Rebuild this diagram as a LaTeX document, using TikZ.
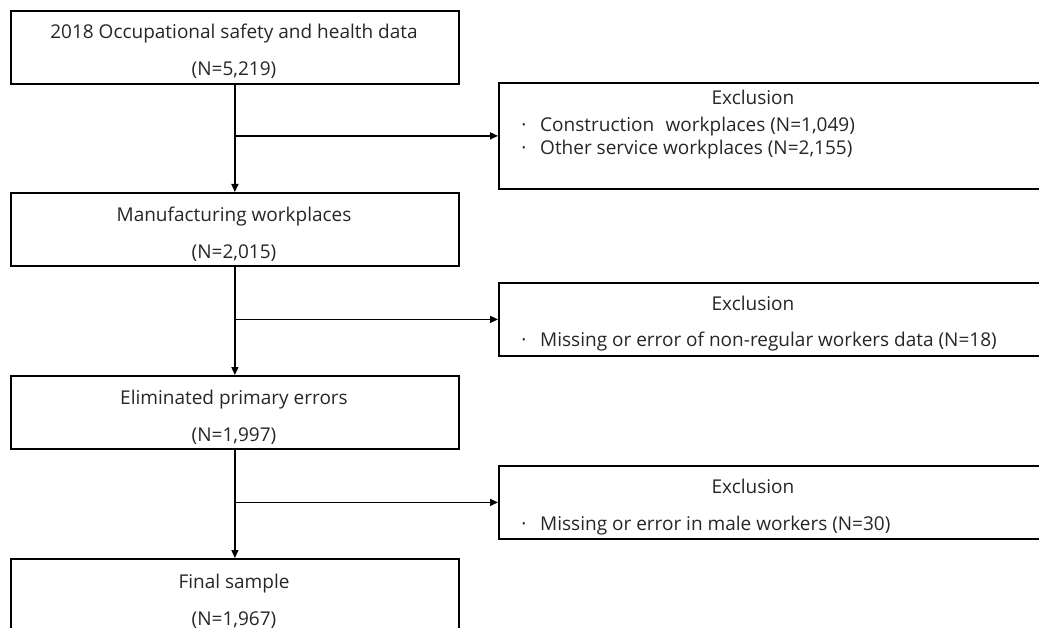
\documentclass[tikz,border=0pt]{standalone}
\usepackage{fontspec}
\setmainfont{Open Sans}
\usetikzlibrary{arrows.meta}
\begin{document}
\begin{tikzpicture}[x=1pt,y=-1pt,
  mainbox/.style={draw,line width=1.8pt,minimum width=448pt,minimum height=73pt,inner sep=0pt,anchor=north west},
  exbox/.style={draw,line width=1.8pt,minimum width=600pt,inner sep=0pt,anchor=north west},
  txt/.style={font=\fontsize{19}{22}\selectfont,text=black!85,inner sep=0pt,anchor=base},
  ltxt/.style={txt,anchor=base west},
  conn/.style={line width=1.4pt,-{Triangle[length=8pt,width=7pt]}}]
\useasboundingbox (0,0) rectangle (1039,628);
\clip (0,0) rectangle (1039,628);
% main boxes
\node[mainbox] (b1) at (10,10) {};
\node[mainbox] (b2) at (10,192) {};
\node[mainbox] (b3) at (10,375) {};
\node[mainbox] (b4) at (10,558) {};
% exclusion boxes
\node[exbox,minimum height=106pt] (e1) at (498,82) {};
\node[exbox,minimum height=73pt] (e2) at (498,282) {};
\node[exbox,minimum height=73pt] (e3) at (498,465) {};
% main texts
\node[txt] (t1a) at (234,39) {2018 Occupational safety and health data};
\node[txt] (t1b) at (234,76) {(N=5,219)};
\node[txt] (t2a) at (234,222) {Manufacturing workplaces};
\node[txt] (t2b) at (234,259) {(N=2,015)};
\node[txt] (t3a) at (234,404) {Eliminated primary errors};
\node[txt] (t3b) at (234,441) {(N=1,997)};
\node[txt] (t4a) at (234,588) {Final sample};
\node[txt] (t4b) at (234,625) {(N=1,967)};
% exclusion texts
\node[txt] (x1h) at (753,105) {Exclusion};
\node[txt] (x1d1) at (524,132) {·};
\node[ltxt] (x1l1) at (540,132) {Construction\hspace{0.6em}workplaces (N=1,049)};
\node[txt] (x1d2) at (524,155) {·};
\node[ltxt] (x1l2) at (540,155) {Other service workplaces (N=2,155)};
\node[txt] (x2h) at (753,311) {Exclusion};
\node[txt] (x2d) at (524,347) {·};
\node[ltxt] (x2l) at (540,347) {Missing or error of non-regular workers data (N=18)};
\node[txt] (x3h) at (753,493) {Exclusion};
\node[txt] (x3d) at (524,530) {·};
\node[ltxt] (x3l) at (540,530) {Missing or error in male workers (N=30)};
% connectors
\draw[conn] (b1.south) -- (b2.north);
\draw[conn] (b2.south) -- (b3.north);
\draw[conn] (b3.south) -- (b4.north);
\draw[conn] (b1.south |- e1.west) -- (e1.west);
\draw[conn] (b2.south |- e2.west) -- (e2.west);
\draw[conn] (b3.south |- e3.west) -- (e3.west);
\end{tikzpicture}
\end{document}
